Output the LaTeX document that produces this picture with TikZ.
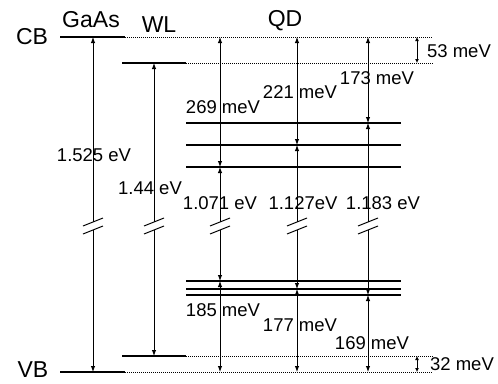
\documentclass[tikz,border=0pt]{standalone}
\usepackage{fontspec}
\setmainfont{Liberation Sans}
\usetikzlibrary{arrows.meta,calc}

\begin{document}
\begin{tikzpicture}[x=1pt, y=-1pt,
  level/.style={line width=2.4pt},
  guide/.style={line width=0.7pt, dash pattern=on 1pt off 1pt},
  arr/.style={line width=1pt, {Latex[length=6pt,width=4.5pt]}-{Latex[length=6pt,width=4.5pt]}},
  tip/.style={line width=1pt, -{Latex[length=6pt,width=4.5pt]}},
  small/.style={line width=1pt, {Latex[length=4pt,width=4pt]}-{Latex[length=4pt,width=4pt]}},
  brk/.style={line width=1pt},
  ttl/.style={font=\fontsize{23}{23}\selectfont, inner sep=0pt},
  val/.style={font=\fontsize{18.5}{18.5}\selectfont, inner sep=0pt},
]
\useasboundingbox (0,0) rectangle (498,383);

% ---- Bulk and wetting layer levels ----
\coordinate (cbL) at (60,37);  \coordinate (cbR) at (125,37);
\coordinate (vbL) at (60,372); \coordinate (vbR) at (125,372);
\coordinate (wtL) at (122,63); \coordinate (wtR) at (186,63);
\coordinate (wbL) at (122,356); \coordinate (wbR) at (186,356);
\coordinate (dotE) at (433,0);

\draw[level] (cbL) -- (cbR);
\draw[level] (vbL) -- (vbR);
\draw[level] (wtL) -- (wtR);
\draw[level] (wbL) -- (wbR);

\draw[guide] (cbR) -- (dotE |- cbR);
\draw[guide] (wtR) -- (dotE |- wtR);
\draw[guide] (wbR) -- (dotE |- wbR);
\draw[guide] (vbR) -- (dotE |- vbR);

% ---- QD levels ----
\foreach \n/\y in {e1/123, e2/145, e3/167, h1/281, h2/289, h3/295} {
  \coordinate (\n) at (186,\y);
  \coordinate (\n-r) at (401,\y);
  \draw[level] (\n) -- (\n-r);
}

% ---- Columns and break ----
\coordinate (gx) at (93,0);
\coordinate (wx) at (154,0);
\coordinate (q1) at (220,0);
\coordinate (q2) at (297,0);
\coordinate (q3) at (368,0);
\coordinate (sx) at (417,0);
\coordinate (brkT) at (0,222);
\coordinate (brkB) at (0,230);

\foreach \c in {gx, wx, q1, q2, q3} {
  \draw[brk] ($(\c |- brkT)+(-10,4)$) -- ($(\c |- brkT)+(10,-4)$);
  \draw[brk] ($(\c |- brkB)+(-10,4)$) -- ($(\c |- brkB)+(10,-4)$);
}

% ---- Transitions ----
\draw[tip] (gx |- brkT) -- (gx |- cbL);
\draw[tip] (gx |- brkB) -- (gx |- vbL);
\draw[tip] (wx |- brkT) -- (wx |- wtL);
\draw[tip] (wx |- brkB) -- (wx |- wbL);

\draw[arr] (q1 |- cbL) -- (q1 |- e3);
\draw[tip] (q1 |- brkT) -- (q1 |- e3);
\draw[tip] (q1 |- brkB) -- (q1 |- h1);
\draw[arr] (q1 |- h1) -- (q1 |- vbL);

\draw[arr] (q2 |- cbL) -- (q2 |- e2);
\draw[tip] (q2 |- brkT) -- (q2 |- e2);
\draw[tip] (q2 |- brkB) -- (q2 |- h2);
\draw[arr] (q2 |- h2) -- (q2 |- vbL);

\draw[arr] (q3 |- cbL) -- (q3 |- e1);
\draw[tip] (q3 |- brkT) -- (q3 |- e1);
\draw[tip] (q3 |- brkB) -- (q3 |- h3);
\draw[arr] (q3 |- h3) -- (q3 |- vbL);

\draw[small] (sx |- cbL) -- (sx |- wtL);
\draw[small] (sx |- wbL) -- (sx |- vbL);

% ---- Labels ----
\node[ttl] (cb) at (32,37) {CB};
\node[ttl] (vb) at (33,370) {VB};
\node[ttl] (gaas) at (91,20) {GaAs};
\node[ttl] (wl) at (159,25) {WL};
\node[ttl] (qd) at (285,21) {QD};

\node[val] (lgaas) at (94,155) {1.525 eV};
\node[val] (lwl) at (150,188) {1.44 eV};
\node[val] (l269) at (223,107) {269 meV};
\node[val] (l221) at (300,92) {221 meV};
\node[val] (l173) at (377,78) {173 meV};
\node[val] (l53) at (459,51) {53 meV};
\node[val] (l1071) at (220,203) {1.071 eV};
\node[val] (l1127) at (303,203) {1.127eV};
\node[val] (l1183) at (383,203) {1.183 eV};
\node[val] (l185) at (223,310) {185 meV};
\node[val] (l177) at (300,325) {177 meV};
\node[val] (l169) at (372,343) {169 meV};
\node[val] (l32) at (462,364) {32 meV};

\end{tikzpicture}
\end{document}
